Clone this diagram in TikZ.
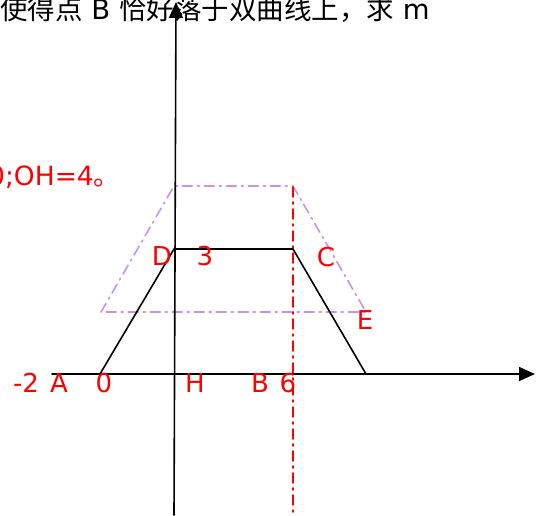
\documentclass[tikz,border=0pt]{standalone}
\usepackage{fontspec}
\setmainfont{DejaVu Sans}
\newfontfamily\cjk{Noto Sans CJK SC}
\usepackage{tikz}
\usetikzlibrary{arrows.meta,calc,positioning}
\usepackage{xcolor}
\definecolor{labelred}{RGB}{255,0,0}
\definecolor{shiftviolet}{RGB}{195,145,250}
\tikzset{
  axis line/.style={line width=1.6pt,-{Triangle[length=16pt,width=14pt]}},
  trap edge/.style={line width=1.6pt},
  shift edge/.style={line width=1.6pt,shiftviolet,dash pattern=on 10pt off 5pt on 2pt off 5pt},
  guide edge/.style={line width=1.6pt,labelred,dash pattern=on 10pt off 5pt on 2pt off 5pt},
  pt label/.style={font=\fontsize{26}{30}\selectfont,text=labelred,inner sep=0pt,anchor=base},
  head text/.style={font=\fontsize{27.5}{32}\selectfont,inner sep=0pt,anchor=base west}
}

\begin{document}
\begin{tikzpicture}[x=1pt,y=-1pt,line cap=round,line join=round]
  \useasboundingbox (0,0) rectangle (541,515);
  \clip (0,0) rectangle (541,515);

  \coordinate (xs) at ( 52,374);
  \coordinate (xe) at (535,374);
  \coordinate (ys) at (174,515);
  \coordinate (ye) at (176,  2);
  \coordinate (t1) at (100,374);
  \coordinate (t2) at (174,249);
  \coordinate (t3) at (293,249);
  \coordinate (t4) at (366,374);
  \coordinate (s1) at (101,312);
  \coordinate (s2) at (174,186);
  \coordinate (s3) at (293,186);
  \coordinate (s4) at (366,312);
  \coordinate (g1) at (293,187);
  \coordinate (g2) at (293,515);

  \draw[shift edge] (s1)--(s2)--(s3)--(s4)--cycle;
  \draw[guide edge] (g1)--(g2);
  \draw[axis line] (xs)--(xe);
  \draw[axis line] (ys)--(ye);
  \draw[trap edge] (t1)--(t2)--(t3)--(t4);

  \node[head text] (top) at (0,19)
    {{\cjk 使得点} B {\cjk 恰好落于双曲线上，求} m};
  \node[head text,font=\fontsize{26.5}{30}\selectfont,text=labelred] (oh) at (-12,185) {0;OH=4{\cjk 。}};

  \node[pt label] (lm2) at ( 26,392) {-2};
  \node[pt label] (lA)  at ( 59,392) {A};
  \node[pt label] (l0)  at (104,392) {0};
  \node[pt label] (lH)  at (195,392) {H};
  \node[pt label] (lB)  at (260,392) {B};
  \node[pt label] (l6)  at (288,392) {6};
  \node[pt label] (lD)  at (162,265) {D};
  \node[pt label] (l3)  at (205,265) {3};
  \node[pt label] (lC)  at (326,266) {C};
  \node[pt label] (lE)  at (365,329) {E};
\end{tikzpicture}
\end{document}
